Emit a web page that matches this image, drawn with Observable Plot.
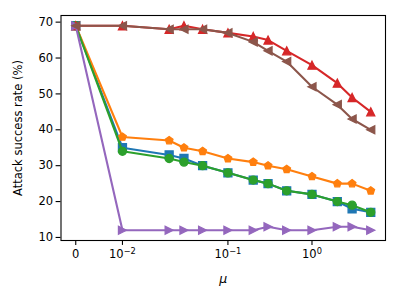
<!DOCTYPE html>
<html>
<head>
<meta charset="utf-8">
<script src="https://cdn.jsdelivr.net/npm/d3@7"></script>
<script src="https://cdn.jsdelivr.net/npm/@observablehq/plot@0.6"></script>
<style>
  html, body { margin: 0; padding: 0; background: #fff; }
  #chart { width: 400px; height: 300px; }
</style>
</head>
<body>
<div id="chart"></div>
<script>
// ---- data ----
const mu = [0, 0.01, 0.02, 0.03, 0.05, 0.1, 0.2, 0.3, 0.5, 1, 2, 3, 5];
const blueVals   = [69, 35, 33, 32, 30, 28, 26, 25, 23, 22, 20, 18, 17];
const orangeVals = [69, 38, 37, 35, 34, 32, 31, 30, 29, 27, 25, 25, 23];
const greenVals  = [69, 34, 32, 31, 30, 28, 26, 25, 23, 22, 20, 19, 17];
const redVals    = [69, 69, 68, 69, 68, 67, 66, 65, 62, 58, 53, 49, 45];
const purpleVals = [69, 12, 12, 12, 12, 12, 12, 13, 12, 12, 13, 13, 12];
const brownVals  = [69, 69, 68, 68, 68, 67, 64.5, 62, 59, 52, 47, 43, 40];
const xTicks = [0, 0.01, 0.1, 1];
const xTickBases = ["0", "10", "10", "10"];
const xTickExps = ["", "\u22122", "\u22121", "0"];
const yTicks = [10, 20, 30, 40, 50, 60, 70];

// matplotlib-like symlog (linthresh 0.02, linscale 1)
const linthresh = 0.02, linscaleAdj = 1 / (1 - 1 / 10);
function symlog(v) {
  const a = Math.abs(v);
  if (a <= linthresh) return v * linscaleAdj;
  return Math.sign(v) * linthresh * (linscaleAdj + Math.log10(a / linthresh));
}

// custom marker shapes
const mk = (fn) => ({draw(ctx, size) { fn(ctx, Math.sqrt(size / Math.PI)); }});
const square = mk((c, h) => { c.moveTo(-h, -h); c.lineTo(h, -h); c.lineTo(h, h); c.lineTo(-h, h); c.closePath(); });
const circle = mk((c, h) => { c.moveTo(h, 0); c.arc(0, 0, h, 0, 2 * Math.PI); c.closePath(); });
const triUp = mk((c, h) => { c.moveTo(0, -h); c.lineTo(h, h); c.lineTo(-h, h); c.closePath(); });
const triLeft = mk((c, h) => { c.moveTo(-h, 0); c.lineTo(h, -h); c.lineTo(h, h); c.closePath(); });
const triRight = mk((c, h) => { c.moveTo(h, 0); c.lineTo(-h, h); c.lineTo(-h, -h); c.closePath(); });
const pentagon = mk((c, h) => {
  for (let i = 0; i < 5; i++) {
    const a = -Math.PI / 2 + i * 2 * Math.PI / 5;
    const x = h * Math.cos(a), y = h * Math.sin(a);
    if (i === 0) c.moveTo(x, y); else c.lineTo(x, y);
  }
  c.closePath();
});

const series = [
  {vals: blueVals,   color: "#1f77b4", sym: square},
  {vals: orangeVals, color: "#ff7f0e", sym: pentagon},
  {vals: greenVals,  color: "#2ca02c", sym: circle},
  {vals: redVals,    color: "#d62728", sym: triUp},
  {vals: purpleVals, color: "#9467bd", sym: triRight},
  {vals: brownVals,  color: "#8c564b", sym: triLeft}
];

const xMax = symlog(d3.max(mu)), xMin = symlog(d3.min(mu));
const xPad = (xMax - xMin) * 0.05;
const allY = series.flatMap(s => s.vals);
const yLo = d3.min(allY), yHi = d3.max(allY), yPad = (yHi - yLo) * 0.05;

const font = "DejaVu Sans, sans-serif";
const marks = [];
for (const s of series) {
  const data = mu.map((m, i) => ({mu: m, v: s.vals[i]}));
  marks.push(Plot.line(data, {x: "mu", y: "v", stroke: s.color, strokeWidth: 2.1}));
  marks.push(Plot.dot(data, {x: "mu", y: "v", symbol: s.sym, r: 4.0, fill: s.color, stroke: s.color, strokeWidth: 1.3}));
}
marks.push(Plot.frame({stroke: "black", strokeWidth: 1.1}));
marks.push(Plot.axisX(xTicks, {anchor: "bottom", tickSize: 4.9, tickPadding: 4, fontSize: 11.5,
  tickFormat: (d) => { const i = xTicks.indexOf(d); return xTickBases[i] + xTickExps[i]; }, label: null, strokeWidth: 1.1}));
marks.push(Plot.axisY(yTicks, {anchor: "left", tickSize: 4.9, tickPadding: 3, fontSize: 11.5, label: null, strokeWidth: 1.1}));
marks.push(Plot.text(["Attack success rate (%)"], {frameAnchor: "left", dx: -43, rotate: -90, fontSize: 11.5, textAnchor: "middle"}));
marks.push(Plot.text(["\u03BC"], {frameAnchor: "bottom", dy: 42, fontSize: 12.5, fontStyle: "italic"}));

const chart = Plot.plot({
  width: 400, height: 300,
  marginLeft: 60.5, marginRight: 15, marginTop: 15, marginBottom: 60,
  style: {fontFamily: font, background: "#fff", color: "black", overflow: "visible"},
  x: {type: "linear", transform: symlog, domain: [xMin - xPad, xMax + xPad]},
  y: {type: "linear", domain: [yLo - yPad, yHi + yPad]},
  marks
});
document.getElementById("chart").appendChild(chart);

// render exponents as real superscripts (mathtext-like)
d3.select(chart).selectAll('g[aria-label="x-axis tick label"] text').each(function () {
  const t = this.textContent;
  const i = xTickBases.findIndex((b, k) => b + xTickExps[k] === t && xTickExps[k] !== "");
  if (i < 0) return;
  const el = d3.select(this);
  el.text(xTickBases[i]);
  el.append("tspan").attr("dy", "-0.45em").attr("font-size", "0.72em").text(xTickExps[i]);
});
</script>
</body>
</html>
